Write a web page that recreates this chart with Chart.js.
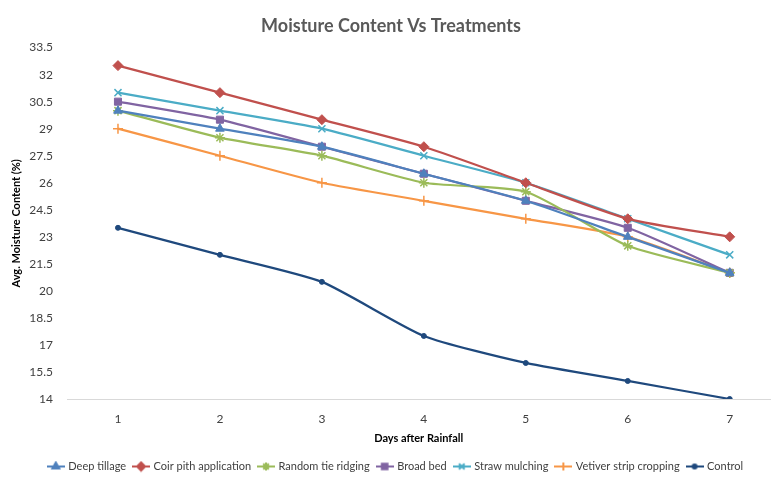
<!DOCTYPE html>
<html lang="en">
  <head>
    <meta charset="UTF-8" />
    <title>Moisture Content Vs Treatments</title>
    <script src="https://cdn.jsdelivr.net/npm/chart.js"></script>
    <style>
      html, body { margin: 0; padding: 0; background: #fff; }
      .wrap { width: 777px; height: 477px; }
    </style>
  </head>
  <body>
    <div class="wrap"><canvas id="chart" width="777" height="477"></canvas></div>
    <script>
      // values
      const days = [1, 2, 3, 4, 5, 6, 7];
      const yTicks = [14, 15.5, 17, 18.5, 20, 21.5, 23, 24.5, 26, 27.5, 29, 30.5, 32, 33.5];

      const deepTillage = [30, 29, 28, 26.5, 25, 23, 21];
      const coirPith = [32.5, 31, 29.5, 28, 26, 24, 23];
      const randomTieRidging = [30, 28.5, 27.5, 26, 25.5, 22.5, 21];
      const broadBed = [30.5, 29.5, 28, 26.5, 25, 23.5, 21];
      const strawMulching = [31, 30, 29, 27.5, 26, 24, 22];
      const vetiver = [29, 27.5, 26, 25, 24, 23, 21];
      const control = [23.5, 22, 20.5, 17.5, 16, 15, 14];

      const FONT = 'Lato, "Open Sans", sans-serif';

      const series = [
        { label: "Deep tillage", data: deepTillage, color: "#4F81BD", style: "triangle", r: 5 },
        { label: "Coir pith application", data: coirPith, color: "#C0504D", style: "rectRot", r: 5 },
        { label: "Random tie ridging", data: randomTieRidging, color: "#9BBB59", style: "star", r: 5 },
        { label: "Broad bed", data: broadBed, color: "#8064A2", style: "rect", r: 5 },
        { label: "Straw mulching", data: strawMulching, color: "#4BACC6", style: "crossRot", r: 5 },
        { label: "Vetiver strip cropping", data: vetiver, color: "#F79646", style: "cross", r: 5 },
        { label: "Control", data: control, color: "#1F497D", style: "circle", r: 2.5 },
      ];

      // little line+marker pictures for the legend, like excel does
      function legendIcon(s) {
        const c = document.createElement("canvas");
        c.width = 18;
        c.height = 12;
        const ctx = c.getContext("2d");
        ctx.strokeStyle = s.color;
        ctx.fillStyle = s.color;
        ctx.lineWidth = 2;
        ctx.beginPath();
        ctx.moveTo(0, 6);
        ctx.lineTo(18, 6);
        ctx.stroke();
        Chart.helpers.drawPoint(ctx, { pointStyle: s.style, radius: s.r * 0.8, rotation: 0, borderWidth: 1.5 }, 9, 6);
        return c;
      }

      // push the legend a bit lower / right, where excel had it
      const legendNudge = {
        id: "legendNudge",
        afterLayout(chart) {
          chart.legend.top += 5;
          chart.legend.bottom += 5;
          chart.legend.left += 5;
          chart.legend.right += 5;
        },
      };

      new Chart(document.getElementById("chart"), {
        type: "line",
        data: {
          datasets: series.map((s) => ({
            label: s.label,
            data: days.map((d, i) => ({ x: d, y: s.data[i] })),
            borderColor: s.color,
            backgroundColor: s.color,
            borderWidth: 2.25,
            pointStyle: s.style,
            pointRadius: s.r,
            pointBorderWidth: s.style === "cross" || s.style === "crossRot" || s.style === "star" ? 1.5 : 1,
            tension: 0.2,
            icon: legendIcon(s),
          })),
        },
        plugins: [legendNudge],
        options: {
          responsive: false,
          animation: false,
          layout: { padding: { left: 10, right: 5, bottom: 0 } },
          plugins: {
            title: {
              display: true,
              text: "Moisture Content Vs Treatments",
              color: "#595959",
              font: { family: FONT, size: 18, weight: "bold" },
              padding: { top: 15, bottom: 11 },
            },
            legend: {
              position: "bottom",
              labels: {
                color: "#404040",
                font: { family: FONT, size: 11 },
                usePointStyle: true,
                pointStyleWidth: 14,
                padding: 8,
                generateLabels: (chart) =>
                  chart.data.datasets.map((ds, i) => ({
                    text: ds.label,
                    pointStyle: ds.icon,
                    datasetIndex: i,
                    fontColor: "#404040",
                    hidden: false,
                  })),
              },
            },
            tooltip: { enabled: false },
          },
          scales: {
            x: {
              type: "linear",
              min: 0.5,
              max: 7.4,
              afterBuildTicks: (scale) => {
                scale.ticks = days.map((d) => ({ value: d }));
              },
              afterFit: (scale) => {
                scale.height = 49;
              },
              grid: { display: false, drawTicks: false },
              border: { display: true, color: "#D9D9D9", width: 1 },
              ticks: {
                color: "#404040",
                font: { family: FONT, size: 12 },
                padding: 13,
              },
              title: {
                display: true,
                text: "Days after Rainfall",
                color: "#000",
                font: { family: FONT, size: 11, weight: "bold" },
                padding: { top: 4, bottom: 3 },
              },
            },
            y: {
              min: 14,
              max: 33.5,
              afterBuildTicks: (scale) => {
                scale.ticks = yTicks.map((v) => ({ value: v }));
              },
              afterFit: (scale) => {
                scale.width = 57;
              },
              grid: { display: false, drawTicks: false },
              border: { display: false },
              ticks: {
                color: "#404040",
                font: { family: FONT, size: 12 },
                padding: 14,
              },
              title: {
                display: true,
                text: "Avg. Moisture Content (%)",
                color: "#000",
                font: { family: FONT, size: 11, weight: "bold" },
                padding: 0,
              },
            },
          },
        },
      });
    </script>
  </body>
</html>
